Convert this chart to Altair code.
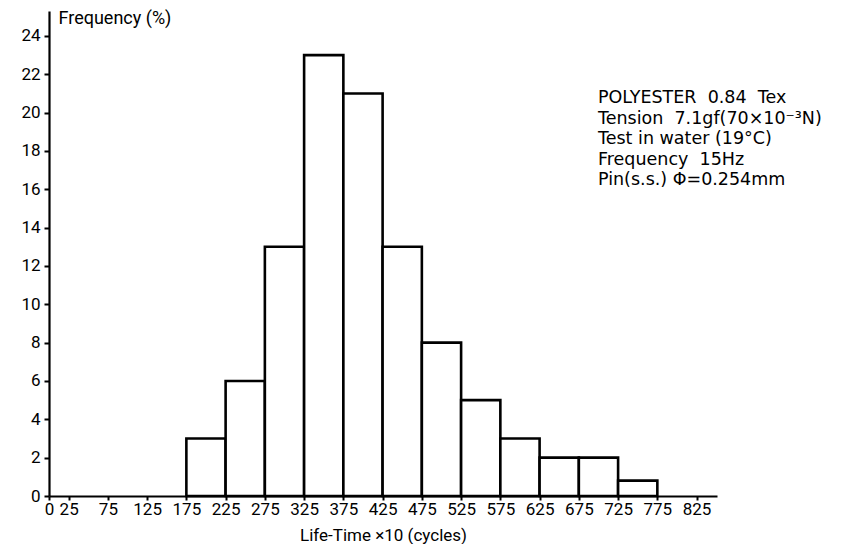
import altair as alt
import pandas as pd

# Histogram bins (Life-Time x10 cycles) and frequencies (%)
bin_start = [175, 225, 275, 325, 375, 425, 475, 525, 575, 625, 675, 725]
bin_end = [225, 275, 325, 375, 425, 475, 525, 575, 625, 675, 725, 775]
frequency = [3, 6, 13, 23, 21, 13, 8, 5, 3, 2, 2, 0.8]

x_ticks = [0, 25, 75, 125, 175, 225, 275, 325, 375, 425, 475, 525, 575, 625, 675, 725, 775, 825]
y_ticks = [0, 2, 4, 6, 8, 10, 12, 14, 16, 18, 20, 22, 24]

NB = "\u00a0"
notes = [
    f"POLYESTER{NB}{NB}0.84{NB}{NB}Tex",
    f"Tension{NB}{NB}7.1gf(70×10⁻³N)",
    f"Test{NB}in{NB}water{NB}(19°C)",
    f"Frequency{NB}{NB}15Hz",
    f"Pin(s.s.){NB}Φ=0.254mm",
]

FONT = "Roboto"
NOTE_FONT = "DejaVu Sans"

df = pd.DataFrame({"start": bin_start, "end": bin_end, "freq": frequency})

x_scale = alt.Scale(domain=[0, 851], nice=False, zero=False)
y_scale = alt.Scale(domain=[0, 25.3], nice=False)

bars = alt.Chart(df).mark_bar(
    fill="white", stroke="black", strokeWidth=2.6, strokeJoin="miter"
).encode(
    x=alt.X(
        "start:Q",
        scale=x_scale,
        axis=alt.Axis(
            values=x_ticks,
            title="Life-Time ×10 (cycles)",
            titleFont=FONT,
            titleFontSize=17,
            titleFontWeight="normal",
            titleColor="black",
            titleBaseline="alphabetic",
            titleY=44,
            labelFont=FONT,
            labelFontSize=17,
            labelColor="black",
            labelPadding=1,
            labelFlush=False,
            labelOverlap=False,
            tickSize=4,
            tickColor="black",
            tickWidth=2,
            domainColor="black",
            domainWidth=2.2,
            grid=False,
        ),
    ),
    x2="end:Q",
    y=alt.Y(
        "freq:Q",
        scale=y_scale,
        axis=alt.Axis(
            values=y_ticks,
            title="Frequency (%)",
            titleFont=FONT,
            titleFontSize=18,
            titleFontWeight="normal",
            titleColor="black",
            titleAngle=0,
            titleAlign="left",
            titleBaseline="alphabetic",
            titleX=9,
            titleY=12,
            labelFont=FONT,
            labelFontSize=17,
            labelColor="black",
            labelPadding=4,
            tickSize=5,
            tickColor="black",
            tickWidth=2,
            domainColor="black",
            domainWidth=2.2,
            grid=False,
        ),
    ),
    y2=alt.datum(0),
)

annot = alt.Chart(pd.DataFrame({"k": [0]})).mark_text(
    align="left",
    baseline="alphabetic",
    font=NOTE_FONT,
    fontSize=17.5,
    lineHeight=20.5,
    color="black",
).encode(
    x=alt.value(549),
    y=alt.value(92),
    text=alt.value(notes),
)

chart = (
    alt.layer(bars, annot)
    .properties(
        width=668,
        height=485,
        background="white",
        autosize=alt.AutoSizeParams(type="none"),
        padding={"left": 41, "top": 3, "right": 130, "bottom": 48},
    )
    .configure_view(strokeWidth=0, stroke=None)
)

chart.save("out.html", embed_options={"renderer": "svg", "actions": False})
